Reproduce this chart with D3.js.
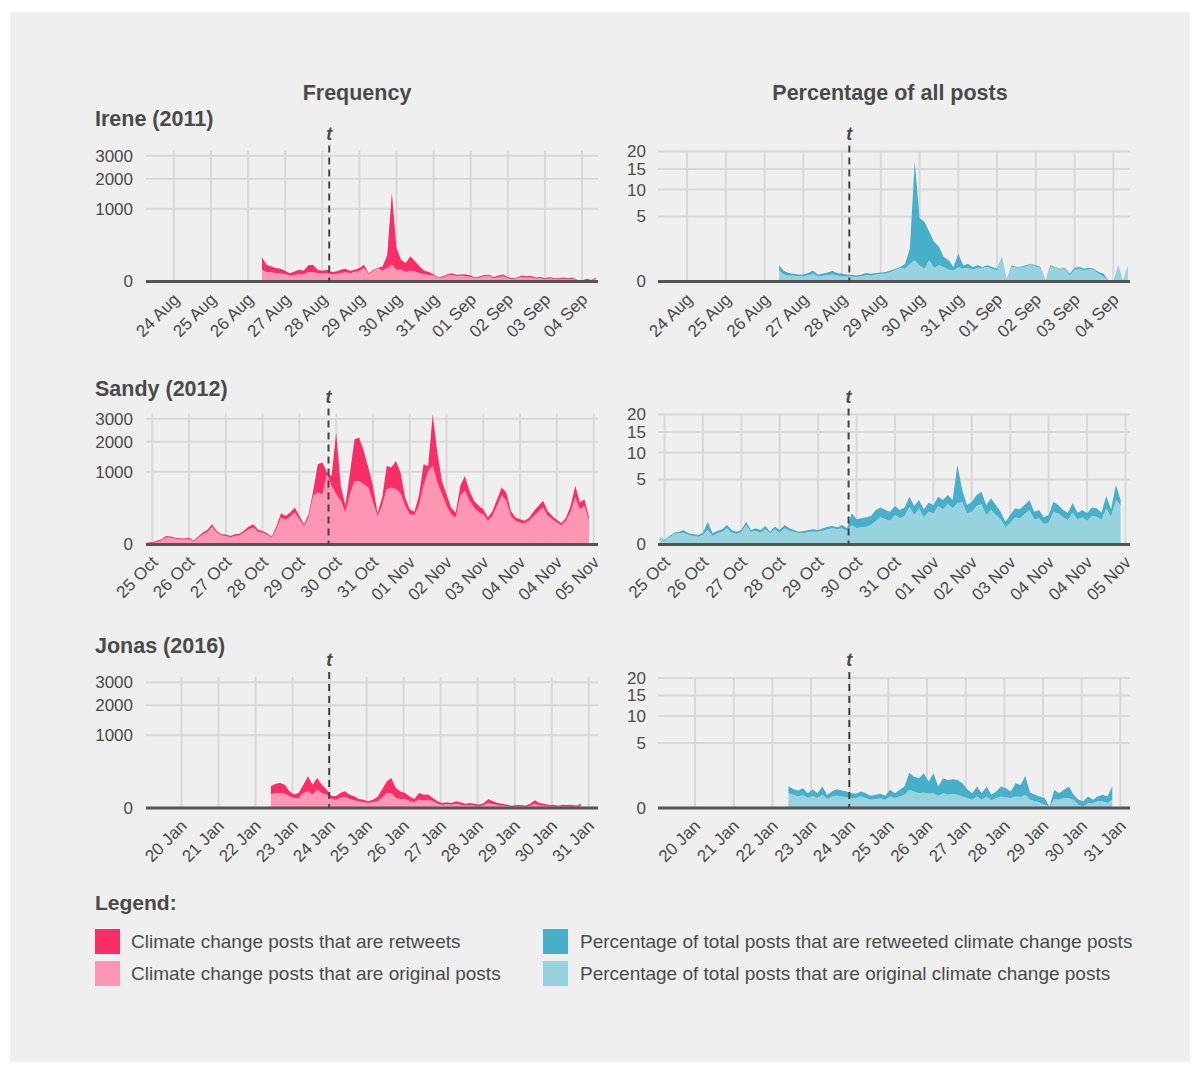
<!DOCTYPE html>
<html><head><meta charset="utf-8">
<script src="https://cdn.jsdelivr.net/npm/d3@7"></script>
<style>
body{margin:0;background:#fff}
svg text{font-family:"Liberation Sans",Arial,Helvetica,sans-serif;fill:#4a4a4a}
</style>
</head><body>
<svg id="chart" width="1200" height="1065"></svg>
<script>
// ---------- tick definitions ----------
const freqTicks = [0, 1000, 2000, 3000];
const pctTicks = [0, 5, 10, 15, 20];
const ireneTickLabels = ["24 Aug","25 Aug","26 Aug","27 Aug","28 Aug","29 Aug","30 Aug","31 Aug","01 Sep","02 Sep","03 Sep","04 Sep"];
const sandyTickLabels = ["25 Oct","26 Oct","27 Oct","28 Oct","29 Oct","30 Oct","31 Oct","01 Nov","02 Nov","03 Nov","04 Nov","04 Nov","05 Nov"];
const jonasTickLabels = ["20 Jan","21 Jan","22 Jan","23 Jan","24 Jan","25 Jan","26 Jan","27 Jan","28 Jan","29 Jan","30 Jan","31 Jan"];

// ---------- series (3-hourly) ----------
const ireneFreqOriginal = [26,17,17,13,13,10,7,8,10,10,17,17,13,12,13,10,11,13,17,13,17,22,34,10,22,34,22,34,53,26,26,17,22,19,13,10,8,7,2,3,7,8,5,7,5,4,2,3,5,6,2,4,5,2,1,2,4,3,3,1.7,2,1,2,1,0.8,1.4,0.8,1.4,0.2,0.1,0.5,0.2,1.7];
const ireneFreqRetweets = [85,36,26,21,18,12,6,11,16,12,33,36,13,10,13,7,8,13,14,9,9,12,19,3,4,2,21,96,1447,187,64,48,98,58,30,12,9,3,1,2,3,5,3,3,4,3,1,2,3,2.5,2,3,4,2,1,1,3,2,2.5,1.4,2,1,2,1,1.3,1.7,1.3,1.7,0.3,0,0.9,0.3,1.4];
const irenePctOriginal = [0.145,0.059,0.043,0.039,0.034,0.030,0.048,0.071,0.034,0.039,0.048,0.059,0.043,0.034,0.030,0.030,0.023,0.034,0.048,0.039,0.059,0.071,0.071,0.105,0.164,0.225,0.193,0.375,0.53,0.31,0.193,0.53,0.225,0.31,0.247,0.164,0.145,0.247,0.193,0.225,0.164,0.225,0.225,0.247,0.193,0.145,0.72,0.005,0.27,0.225,0.247,0.27,0.347,0.27,0.225,0.001,0.27,0.225,0.164,0.193,0.043,0.164,0.193,0.145,0.18,0.164,0.071,0.03,0.001,0,0.283,0.001,0.27];
const irenePctRetweets = [0.163,0.069,0.040,0.032,0.025,0.029,0.035,0.074,0.025,0.032,0.049,0.069,0.040,0.037,0.029,0.023,0.020,0.025,0.035,0.032,0.024,0.026,0.034,0.040,0.029,0.022,0.182,0.905,16.57,4.41,4.04,2.40,1.635,1.11,0.463,0.366,0.102,0.673,0.115,0.150,0.083,0.083,0.022,0.061,0.054,0.048,0.03,0.003,0.04,0.022,0.023,0.04,0.028,0.04,0.022,0.001,0.04,0.022,0.029,0.032,0.028,0.061,0.054,0.048,0.045,0.029,0.034,0.041,0.001,0,0.027,0.001,0.02];

const sandyFreqOriginal = [0.8,0.3,1.3,3.6,9.3,8.4,6.1,5.4,4.7,5.4,2.1,8.4,20,30,61,27,15,14,10,14,16.5,27,44,55,30,27,18,8.4,44,138,115,148,194,121,61,138,448,511,479,935,651,479,361,194,479,766,766,688,614,334,155,283,579,614,579,498,283,174,163,283,651,1026,1170,727,479,283,174,138,448,545,361,259,194,174,106,155,283,460,361,155,106,91,86,106,155,202,259,155,121,91,70,106,202,418,236,283,106];
const sandyFreqRetweets = [0.5,0.5,1.2,1.8,4.7,3.6,2.3,2.2,2.1,3.0,0.9,3.6,7,11,17,8,5,5,4,6,5,10,17,23,11,8,6,3.6,17,48,40,46,65,34,17,36,97,709,792,45,240,1892,290,89,501,1331,1398,972,507,317,31,135,591,507,744,482,135,62,39,165,569,144,2041,873,287,196,85,56,203,346,184,102,89,62,32,59,106,154,150,59,32,30,20,32,59,81,102,59,34,24,16,32,81,233,98,106,32];
const sandyPctOriginal = [0.045,0.015,0.061,0.130,0.148,0.166,0.107,0.086,0.073,0.107,0.249,0.086,0.148,0.195,0.309,0.166,0.130,0.185,0.450,0.195,0.216,0.166,0.272,0.148,0.272,0.166,0.309,0.227,0.185,0.148,0.148,0.185,0.195,0.195,0.227,0.272,0.309,0.272,0.309,0.227,0.450,0.309,0.349,0.376,0.450,0.672,0.873,0.750,0.672,1.030,0.811,0.961,1.690,1.030,1.550,0.873,1.276,1.150,1.750,1.460,1.940,1.550,2.010,2.170,1.150,1.276,1.750,1.940,1.030,1.410,1.030,0.750,0.349,0.530,0.873,0.811,1.100,1.410,0.750,0.811,0.497,0.563,1.276,1.150,0.873,0.710,1.200,0.750,0.873,0.672,0.961,0.917,0.710,1.550,0.917,2.350,1.850];
const sandyPctRetweets = [0.016,0.009,0.025,0.036,0.047,0.083,0.041,0.044,0.034,0.059,0.368,0.062,0.079,0.077,0.141,0.083,0.065,0.064,0.167,0.054,0.093,0.083,0.133,0.047,0.104,0.083,0.141,0.082,0.064,0.047,0.068,0.064,0.077,0.054,0.082,0.104,0.096,0.077,0.141,0.082,0.700,0.441,0.462,0.497,0.511,0.738,0.757,0.660,0.604,0.720,0.599,0.669,1.020,0.720,0.800,0.587,0.794,0.700,0.960,0.890,0.960,0.800,5.470,1.340,0.700,0.894,1.150,1.360,0.820,1.110,0.820,0.526,0.268,0.500,0.677,0.649,0.750,0.940,0.526,0.599,0.376,0.467,0.894,0.700,0.537,0.490,0.810,0.450,0.537,0.478,0.669,0.633,0.490,1.230,0.543,1.840,0.500];

const jonasFreqOriginal = [34,42,42,39,26,19,19,42,52,34,63,42,34,15,13,19,23,15,11,8.4,6.1,4.7,6.1,8.4,19,42,42,19,15,15,8.4,6.1,13,11,13,8.4,3.6,1.7,2.5,2.1,3.6,2.1,1.3,1.7,1,0.5,1.7,4.7,2.5,1.7,1,0.8,0.3,0.5,0.5,0.2,1,3.6,1.3,1,0.5,0.5,0.3,0.5,0.5,0.5,0.3,1];
const jonasFreqRetweets = [55,70,76,64,27,15,24,61,138,69,107,61,30,14,13,24,30,18,15,6.9,7,3.7,7,14.5,45,92,128,57,37,27,17,9.2,29,22,21,10.5,4.8,3,3.6,2.6,4.8,4,2.2,3,2.5,1.6,3,10.6,5.9,3,2.5,1.3,0.7,1.2,1.2,0.8,2.5,7.5,3.4,2.5,1.2,1.6,0.7,1.6,1.2,1.6,0.7,2.5];
const jonasPctOriginal = [0.261,0.206,0.158,0.206,0.116,0.176,0.116,0.206,0.094,0.158,0.176,0.158,0.140,0.116,0.116,0.158,0.116,0.081,0.094,0.108,0.081,0.158,0.116,0.158,0.206,0.390,0.322,0.261,0.285,0.238,0.261,0.176,0.261,0.206,0.238,0.206,0.158,0.116,0.081,0.158,0.081,0.158,0.068,0.116,0.158,0.132,0.116,0.158,0.140,0.206,0.081,0.052,0.037,0.013,0.001,0.094,0.081,0.116,0.116,0.081,0.013,0.003,0.029,0.029,0.052,0.052,0.029,0.081];
const jonasPctRetweets = [0.317,0.213,0.204,0.258,0.145,0.243,0.145,0.338,0.112,0.164,0.243,0.204,0.182,0.145,0.122,0.164,0.145,0.095,0.112,0.130,0.095,0.232,0.145,0.232,0.338,1.085,0.841,0.783,1.135,0.587,1.159,0.368,0.783,0.725,0.737,0.725,0.567,0.303,0.180,0.386,0.180,0.386,0.138,0.206,0.386,0.332,0.206,0.567,0.491,1.006,0.204,0.154,0.121,0.103,0.002,0.296,0.180,0.274,0.428,0.125,0.068,0.049,0.129,0.052,0.106,0.154,0.129,0.463];

const legendItems = [
  "Climate change posts that are retweets",
  "Climate change posts that are original posts",
  "Percentage of total posts that are retweeted climate change posts",
  "Percentage of total posts that are original climate change posts"
];

// ---------- storms ----------
const H3 = 3 * 3600 * 1000, DAY = 24 * 3600 * 1000;
const storms = [
  {name:"Irene (2011)", tickStart:Date.UTC(2011,7,24), labels:ireneTickLabels,
   domain:[Date.UTC(2011,7,23,6,0), Date.UTC(2011,8,4,10,20)], t:Date.UTC(2011,7,28,4,30),
   start:Date.UTC(2011,7,26,9,0),
   freq:[ireneFreqOriginal, ireneFreqRetweets], pct:[irenePctOriginal, irenePctRetweets],
   bottom:281.5, titleY:126},
  {name:"Sandy (2012)", tickStart:Date.UTC(2012,9,25), labels:sandyTickLabels,
   domain:[Date.UTC(2012,9,24,19,55), Date.UTC(2012,10,6,2,50)], t:Date.UTC(2012,9,29,19,0),
   start:Date.UTC(2012,9,24,21,0),
   freq:[sandyFreqOriginal, sandyFreqRetweets], pct:[sandyPctOriginal, sandyPctRetweets],
   bottom:544.5, titleY:396},
  {name:"Jonas (2016)", tickStart:Date.UTC(2016,0,20), labels:jonasTickLabels,
   domain:[Date.UTC(2016,0,19,1,0), Date.UTC(2016,0,31,6,0)], t:Date.UTC(2016,0,23,23,45),
   start:Date.UTC(2016,0,22,10,0),
   freq:[jonasFreqOriginal, jonasFreqRetweets], pct:[jonasPctOriginal, jonasPctRetweets],
   bottom:808, titleY:653}
];

const columns = [
  {key:"freq", x0:146, x1:598, max:3250, ticks:freqTicks, light:"#fc96b2", dark:"#f92e67", pad:13, title:"Frequency", titleX:357},
  {key:"pct", x0:658, x1:1130, max:20.3, ticks:pctTicks, light:"#97d3df", dark:"#47afc9", pad:12, title:"Percentage of all posts", titleX:890}
];
const PH = 131;
const TXT = "#4a4a4a";

const svg = d3.select("#chart");
svg.append("rect").attr("x",10).attr("y",12).attr("width",1180).attr("height",1050).attr("fill","#efefef");

// column titles
columns.forEach(c => {
  svg.append("text").attr("x",c.titleX).attr("y",100).attr("text-anchor","middle")
    .style("font-size","21.5px").style("font-weight","bold").text(c.title);
});

storms.forEach(s => {
  svg.append("text").attr("x",95).attr("y",s.titleY)
    .style("font-size","21.5px").style("font-weight","bold").text(s.name);
  const tickDates = s.labels.map((l,i) => new Date(s.tickStart + i*DAY));
  columns.forEach(c => {
    const g = svg.append("g");
    const x = d3.scaleUtc().domain(s.domain.map(d => new Date(d))).range([c.x0, c.x1]);
    const y = d3.scaleSqrt().domain([0, c.max]).range([s.bottom, s.bottom - PH]);
    // gridlines
    g.append("g").selectAll("line").data(c.ticks.filter(v => v > 0)).join("line")
      .attr("x1",c.x0).attr("x2",c.x1).attr("y1",d=>y(d)).attr("y2",d=>y(d))
      .attr("stroke","#d8d8d8").attr("stroke-width",2);
    g.append("g").selectAll("line").data(tickDates).join("line")
      .attr("x1",d=>x(d)).attr("x2",d=>x(d)).attr("y1",s.bottom-PH).attr("y2",s.bottom)
      .attr("stroke","#d8d8d8").attr("stroke-width",2);
    // data
    const [orig, rt] = s[c.key];
    const rows = orig.map((v,i) => ({date:new Date(s.start + i*H3), original:v, retweets:rt[i]}));
    const stacked = d3.stack().keys(["original","retweets"])(rows);
    const area = d3.area().x(d => x(d.data.date)).y0(d => y(d[0])).y1(d => y(d[1]));
    g.selectAll("path.layer").data(stacked).join("path").attr("class","layer")
      .attr("d", area).attr("fill", (d,i) => i === 0 ? c.light : c.dark);
    // zero axis line
    g.append("line").attr("x1",c.x0).attr("x2",c.x1).attr("y1",y(0)).attr("y2",y(0))
      .attr("stroke","#555").attr("stroke-width",3);
    // event line
    const tx = x(new Date(s.t));
    g.append("line").attr("x1",tx).attr("x2",tx).attr("y1",s.bottom-136).attr("y2",s.bottom)
      .attr("stroke","#444").attr("stroke-width",2).attr("stroke-dasharray","7,5");
    g.append("text").attr("x",tx).attr("y",s.bottom-142).attr("text-anchor","middle")
      .style("font-size","18px").style("font-style","italic").style("font-weight","bold").text("t");
    // y axis
    const ya = g.append("g").attr("transform",`translate(${c.x0},0)`)
      .call(d3.axisLeft(y).tickValues(c.ticks).tickSize(0).tickPadding(c.pad).tickFormat(d3.format("d")));
    ya.select(".domain").remove();
    ya.selectAll("text").style("font-size","17px").style("font-family","'Liberation Sans',Arial,sans-serif").attr("fill",TXT);
    // x axis
    const xa = g.append("g").attr("transform",`translate(0,${s.bottom})`)
      .call(d3.axisBottom(x).tickValues(tickDates).tickSize(0).tickFormat((d,i) => s.labels[i]));
    xa.select(".domain").remove();
    xa.selectAll("text").attr("x",0).attr("y",0).attr("dy",0)
      .attr("text-anchor","end").attr("transform","translate(6,19) rotate(-45)")
      .style("font-size","17px").style("font-family","'Liberation Sans',Arial,sans-serif").attr("fill",TXT);
  });
});

// legend
svg.append("text").attr("x",95).attr("y",910).style("font-size","21px").style("font-weight","bold").text("Legend:");
const legendColors = ["#f92e67","#fc96b2","#47afc9","#97d3df"];
const lg = svg.append("g").selectAll("g").data(legendItems).join("g")
  .attr("transform",(d,i) => `translate(${i < 2 ? 95 : 543},${929 + (i % 2) * 32})`);
lg.append("rect").attr("width",25).attr("height",25).attr("fill",(d,i) => legendColors[i]);
lg.append("text").attr("x",(d,i) => i < 2 ? 36 : 37).attr("y",19).style("font-size","19px").text(d => d);
</script>
</body></html>
